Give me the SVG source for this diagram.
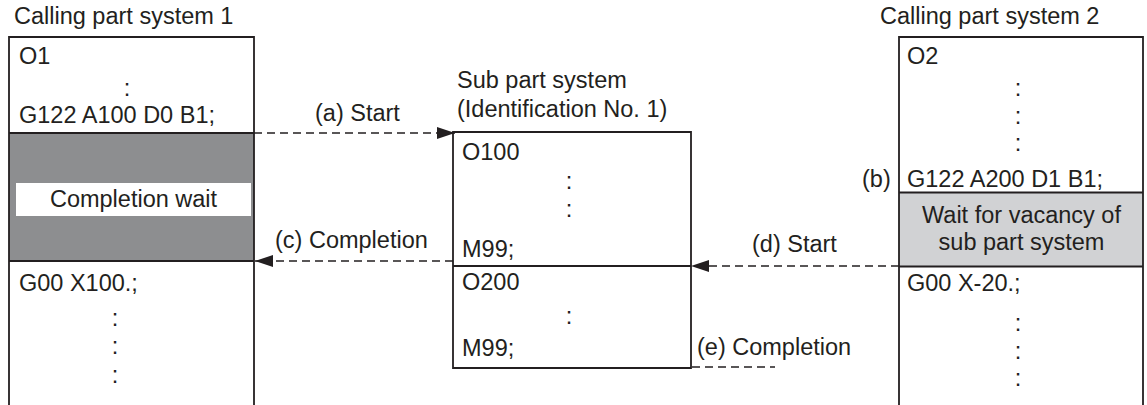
<svg xmlns="http://www.w3.org/2000/svg" width="1147" height="405" viewBox="0 0 1147 405">
<defs>
<style>
text{font-family:"Liberation Sans",Arial,sans-serif;font-size:23.5px;fill:#231f20}
.c{text-anchor:middle}
.box{fill:none;stroke:#231f20;stroke-width:1.8}
.dash{fill:none;stroke:#231f20;stroke-width:1.6;stroke-dasharray:8 5}
</style>
<marker id="ah" viewBox="0 0 18 12" refX="18" refY="6" markerWidth="18" markerHeight="12" markerUnits="userSpaceOnUse" orient="auto">
<path d="M0,0 L18,6 L0,12 Z" fill="#231f20"/>
</marker>
</defs>
<rect width="1147" height="405" fill="#fff"/>
<g id="calling1">
<text x="14" y="24">Calling part system 1</text>
<rect x="9" y="133" width="245" height="128" fill="#8d8e90"/>
<rect x="16" y="183" width="235" height="33" fill="#fff"/>
<path class="box" d="M9,405 V37 H254 V405 M9,133 H254 M9,261 H254"/>
<text x="19" y="64">O1</text>
<text class="c" x="127" y="96">:</text>
<text x="19" y="122.5">G122 A100 D0 B1;</text>
<text class="c" x="133.5" y="207">Completion wait</text>
<text x="19" y="291">G00 X100.;</text>
<text class="c" x="115" y="326">:</text>
<text class="c" x="115" y="354">:</text>
<text class="c" x="115" y="383">:</text>
</g>
<g id="sub">
<text x="457" y="88">Sub part system</text>
<text x="457" y="117">(Identification No. 1)</text>
<path class="box" d="M453,132 H691 V368 H453 Z M453,266 H691"/>
<text x="462" y="160">O100</text>
<text class="c" x="569" y="189">:</text>
<text class="c" x="569" y="217">:</text>
<text x="462" y="257">M99;</text>
<text x="462" y="290">O200</text>
<text class="c" x="569" y="324">:</text>
<text x="462" y="356">M99;</text>
</g>
<g id="calling2">
<text x="880" y="24">Calling part system 2</text>
<rect x="899" y="192.5" width="244" height="74" fill="#d1d2d4"/>
<path class="box" d="M899,405 V37 H1143 V405 M899,192.5 H1143 M899,266.5 H1143"/>
<text x="907" y="64">O2</text>
<text class="c" x="1018" y="96">:</text>
<text class="c" x="1018" y="124">:</text>
<text class="c" x="1018" y="151">:</text>
<text x="862" y="187">(b)</text>
<text x="907" y="187">G122 A200 D1 B1;</text>
<text class="c" x="1021.5" y="223">Wait for vacancy of</text>
<text class="c" x="1021.5" y="250">sub part system</text>
<text x="907" y="291">G00 X-20.;</text>
<text class="c" x="1018" y="331">:</text>
<text class="c" x="1018" y="359">:</text>
<text class="c" x="1018" y="386">:</text>
</g>
<g id="connectors">
<path class="dash" d="M254,133 H455" marker-end="url(#ah)"/>
<text x="315" y="121">(a) Start</text>
<path class="dash" d="M453,261 H255" marker-end="url(#ah)"/>
<text x="275" y="248">(c) Completion</text>
<path class="dash" d="M899,266 H691" marker-end="url(#ah)"/>
<text x="752" y="252">(d) Start</text>
<path class="dash" d="M692,367 H775"/>
<text x="697" y="355">(e) Completion</text>
</g>
</svg>
